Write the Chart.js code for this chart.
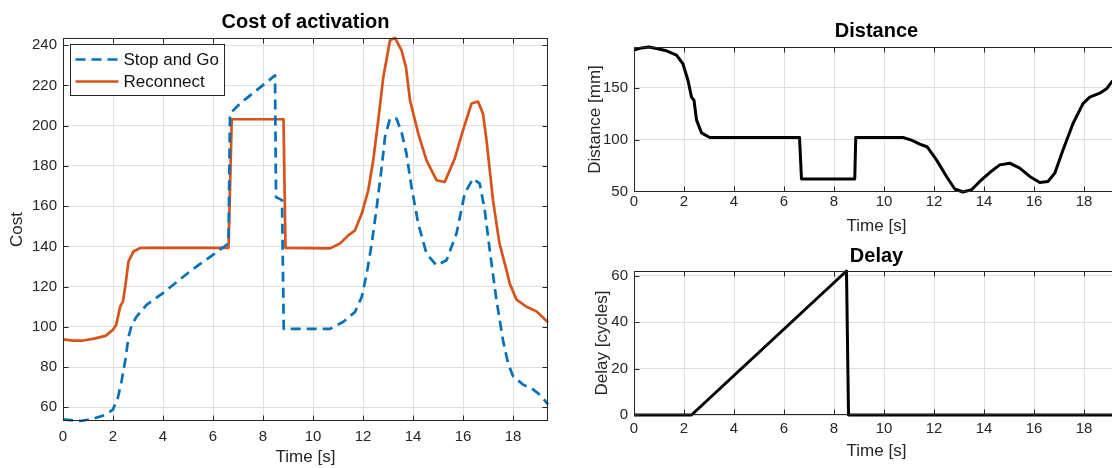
<!DOCTYPE html>
<html>
<head>
<meta charset="utf-8">
<title>Cost of activation</title>
<script src="https://cdn.jsdelivr.net/npm/chart.js@4/dist/chart.umd.min.js"></script>
<style>
    html, body {
        margin: 0;
        padding: 0;
        background: #ffffff;
        width: 1112px;
        height: 468px;
        overflow: hidden;
    }
    canvas {
        position: absolute;
    }
    #costChart { left: 0; top: 0; }
    #distanceChart { left: 570px; top: 0; }
    #delayChart { left: 570px; top: 240px; }
</style>
</head>
<body>
<canvas id="costChart" width="560" height="468"></canvas>
<canvas id="distanceChart" width="560" height="240"></canvas>
<canvas id="delayChart" width="560" height="228"></canvas>

<script>
// Time axis shared by all three plots
const timeRange = [0, 19.4];
const timeStep = 2;

// Cost of activation - Stop and Go
const stopTime = [0, 0.4, 0.7, 1.2, 1.75, 2.0, 2.2, 2.35, 2.5, 2.62, 2.75, 2.95, 3.35, 4.0, 5.0, 5.5, 6.0, 6.62,
    6.68, 7.08, 8.48, 8.52, 8.76, 8.83, 10.68, 11.2, 11.68, 11.95, 12.15, 12.35, 12.55, 12.75, 12.88,
    13.08, 13.34, 13.54, 13.74, 13.94, 14.21, 14.54, 14.94, 15.34, 15.74, 16.07, 16.4, 16.67, 16.87,
    17.07, 17.34, 17.6, 17.8, 18.0, 18.4, 18.8, 19.1, 19.4];
const stopCost = [54.0, 53.5, 53.2, 54.3, 56.5, 59, 65, 73.5, 84, 95, 101, 105.2, 111, 116.8, 126.8, 131.4, 135.8, 141.5,
    206, 211, 225, 164.5, 163, 99, 99, 102.4, 107.4, 114.9, 126.5, 141.4, 159.6, 179.5, 194.4,
    203.5, 203.5, 196.9, 186.1, 169.5, 151.3, 136.4, 130.6, 133.1, 146.4, 166.3, 173.7, 171.2, 158,
    138.1, 113.2, 93.3, 82, 75.5, 71.3, 68.9, 66, 61.5];

// Cost of activation - Reconnect
const reconnectTime = [0, 0.4, 0.8, 1.2, 1.7, 2.0, 2.13, 2.29, 2.4, 2.49, 2.62, 2.82, 3.09, 3.5, 6.62, 6.75, 8.82,
    8.9, 10.68, 11.08, 11.41, 11.68, 11.95, 12.21, 12.41, 12.61, 12.81, 13.08, 13.28, 13.54, 13.72,
    13.88, 14.21, 14.54, 14.94, 15.27, 15.67, 16.0, 16.34, 16.6, 16.8, 16.94, 17.2, 17.45, 17.74,
    17.87, 18.14, 18.54, 18.94, 19.4];
const reconnectCost = [93.8, 93.2, 93.2, 94, 95.5, 98.6, 101.1, 110.2, 112.7, 120.1, 132.5, 137.5, 139.2, 139.3, 139.3, 203.2, 203.2,
    139.3, 139, 141.4, 145.5, 148, 156.3, 167.9, 182.8, 202.7, 224, 242.5, 243.6, 237.5, 229,
    212.6, 196.1, 182.8, 172.9, 172, 183.7, 197.7, 211, 212, 206, 192.8, 163, 142, 128.1,
    121.5, 113.5, 110, 107.7, 102.3];

// Distance [mm]
const distTime = [0, 0.3, 0.6, 0.9, 1.3, 1.7, 1.96, 2.16, 2.3, 2.4, 2.5, 2.7, 3.03, 6.62, 6.7, 8.83, 8.87, 10.76,
    11.1, 11.43, 11.72, 12.1, 12.5, 12.83, 13.16, 13.5, 13.83, 14.23, 14.63, 15.03, 15.43, 15.83,
    16.23, 16.56, 16.83, 17.16, 17.56, 17.96, 18.23, 18.63, 18.9, 19.1, 19.4];
const distance = [186.4, 188.5, 189.4, 188, 185.7, 181.6, 173, 157, 141, 138, 119, 106.5, 102, 102, 62, 62, 102, 102,
    99.5, 95.7, 93.1, 80.4, 64.4, 52.3, 49.4, 51.6, 59.6, 68.2, 75.6, 77.2, 72.4, 64.4,
    58.6, 59.6, 67.6, 90, 115.5, 134.7, 141, 144.8, 149, 155.4, 162];

// Delay [cycles]
const delayTime = [0, 2.3, 8.5, 8.58, 19.4];
const delay = [0, 0, 62, 0, 0];

// Axis limits
const costRange = [53.2, 243.6];
const distRange = [49.4, 189.4];
const delayRange = [0, 62];

const FONT = "'Liberation Sans', Arial, Helvetica, sans-serif";
const AXIS_COLOR = '#262626';
const GRID_COLOR = '#dfdfdf';
const BLUE = '#0072bd';
const ORANGE = '#d95319';

Chart.defaults.font.family = FONT;
Chart.defaults.color = AXIS_COLOR;

function toPoints(xs, ys) {
    return xs.map((x, i) => ({ x: x, y: ys[i] }));
}

// Bold title centred over the plot area (not the whole canvas)
const axesTitle = {
    id: 'axesTitle',
    afterDraw(chart, args, opts) {
        const { ctx, chartArea: a } = chart;
        ctx.save();
        ctx.font = 'bold 20px ' + FONT;
        ctx.fillStyle = '#000000';
        ctx.textAlign = 'center';
        ctx.textBaseline = 'alphabetic';
        ctx.fillText(opts.text, (a.left + a.right) / 2, opts.baseline);
        ctx.restore();
    }
};

// Full box around the plot area plus inward tick marks on all four sides
const axesBox = {
    id: 'axesBox',
    afterDraw(chart) {
        const { ctx, chartArea: a, scales } = chart;
        const L = Math.round(a.left) + 0.5;
        const R = Math.round(a.right) - 0.5;
        const T = Math.round(a.top) + 0.5;
        const B = Math.round(a.bottom) - 0.5;
        const len = 5;
        ctx.save();
        ctx.strokeStyle = AXIS_COLOR;
        ctx.lineWidth = 1;
        ctx.strokeRect(L, T, R - L, B - T);
        ctx.beginPath();
        scales.x.ticks.forEach(t => {
            const px = Math.round(scales.x.getPixelForValue(t.value)) + 0.5;
            ctx.moveTo(px, B); ctx.lineTo(px, B - len);
            ctx.moveTo(px, T); ctx.lineTo(px, T + len);
        });
        scales.y.ticks.forEach(t => {
            const py = Math.round(scales.y.getPixelForValue(t.value)) + 0.5;
            ctx.moveTo(L, py); ctx.lineTo(L + len, py);
            ctx.moveTo(R, py); ctx.lineTo(R - len, py);
        });
        ctx.stroke();
        ctx.restore();
    }
};

// Boxed legend drawn in the upper left corner of the plot area
const boxLegend = {
    id: 'boxLegend',
    afterDraw(chart) {
        const { ctx, chartArea: a } = chart;
        const sets = chart.data.datasets;
        const font = '17px ' + FONT;
        const sample = 43;
        const rowH = 22;
        ctx.save();
        ctx.font = font;
        const textW = Math.max(...sets.map(d => ctx.measureText(d.label).width));
        const x0 = Math.round(a.left) + 7.5;
        const y0 = Math.round(a.top) + 6.5;
        const w = Math.round(5 + sample + 5 + textW + 6);
        const h = rowH * sets.length + 7;
        ctx.fillStyle = '#ffffff';
        ctx.fillRect(x0, y0, w, h);
        ctx.strokeStyle = AXIS_COLOR;
        ctx.lineWidth = 1;
        ctx.strokeRect(x0, y0, w, h);
        sets.forEach((d, i) => {
            const cy = y0 + 15 + i * rowH;
            ctx.beginPath();
            ctx.strokeStyle = d.borderColor;
            ctx.lineWidth = d.borderWidth;
            ctx.setLineDash(d.borderDash || []);
            ctx.moveTo(x0 + 5, cy);
            ctx.lineTo(x0 + 5 + sample, cy);
            ctx.stroke();
            ctx.setLineDash([]);
            ctx.fillStyle = '#111111';
            ctx.textBaseline = 'middle';
            ctx.textAlign = 'left';
            ctx.fillText(d.label, x0 + 10 + sample, cy + 1);
        });
        ctx.restore();
    }
};

function makeOptions(cfg) {
    return {
        responsive: false,
        animation: false,
        events: [],
        layout: { padding: { left: 0, right: cfg.padRight, top: cfg.padTop, bottom: 0 } },
        plugins: {
            legend: { display: false },
            tooltip: { enabled: false },
            title: { display: false },
            axesTitle: { text: cfg.title, baseline: cfg.titleBaseline }
        },
        scales: {
            x: {
                type: 'linear',
                min: timeRange[0],
                max: timeRange[1],
                afterFit(scale) { scale.height = cfg.xHeight; },
                ticks: {
                    stepSize: timeStep,
                    includeBounds: false,
                    padding: cfg.xTickPad,
                    maxRotation: 0,
                    font: { size: 15 },
                    color: AXIS_COLOR
                },
                grid: { color: GRID_COLOR, drawTicks: false },
                border: { display: false },
                title: {
                    display: true,
                    text: 'Time [s]',
                    font: { size: 17 },
                    color: AXIS_COLOR,
                    padding: { top: 0, bottom: cfg.xTitlePad }
                }
            },
            y: {
                type: 'linear',
                min: cfg.yRange[0],
                max: cfg.yRange[1],
                afterFit(scale) { scale.width = cfg.yWidth; },
                ticks: {
                    stepSize: cfg.yStep,
                    includeBounds: false,
                    padding: 6,
                    font: { size: 15 },
                    color: AXIS_COLOR
                },
                grid: { color: GRID_COLOR, drawTicks: false },
                border: { display: false },
                title: {
                    display: true,
                    text: cfg.yTitle,
                    font: { size: 17 },
                    color: AXIS_COLOR,
                    padding: { top: cfg.yTitlePad, bottom: 0 }
                }
            }
        }
    };
}

function lineSet(label, xs, ys, color, width, dash) {
    return {
        label: label,
        data: toPoints(xs, ys),
        borderColor: color,
        borderWidth: width,
        borderDash: dash,
        borderJoinStyle: 'round',
        borderCapStyle: 'butt',
        pointRadius: 0,
        tension: 0,
        fill: false,
        clip: 3
    };
}

new Chart(document.getElementById('costChart'), {
    type: 'line',
    data: {
        datasets: [
            lineSet('Stop and Go', stopTime, stopCost, BLUE, 2.7, [10, 6]),
            lineSet('Reconnect', reconnectTime, reconnectCost, ORANGE, 2.7, [])
        ]
    },
    options: makeOptions({
        title: 'Cost of activation',
        titleBaseline: 28,
        padTop: 38,
        padRight: 12,
        xHeight: 47,
        xTickPad: 7,
        xTitlePad: 0,
        yWidth: 63,
        yRange: costRange,
        yStep: 20,
        yTitle: 'Cost',
        yTitlePad: 7
    }),
    plugins: [axesBox, boxLegend, axesTitle]
});

new Chart(document.getElementById('distanceChart'), {
    type: 'line',
    data: {
        datasets: [lineSet('Distance', distTime, distance, '#000000', 3, [])]
    },
    options: makeOptions({
        title: 'Distance',
        titleBaseline: 37,
        padTop: 47,
        padRight: 11,
        xHeight: 48,
        xTickPad: 1,
        xTitlePad: 3,
        yWidth: 64,
        yRange: distRange,
        yStep: 50,
        yTitle: 'Distance [mm]',
        yTitlePad: 15
    }),
    plugins: [axesBox, axesTitle]
});

new Chart(document.getElementById('delayChart'), {
    type: 'line',
    data: {
        datasets: [lineSet('Delay', delayTime, delay, '#000000', 3, [])]
    },
    options: makeOptions({
        title: 'Delay',
        titleBaseline: 22,
        padTop: 31,
        padRight: 11,
        xHeight: 53,
        xTickPad: 5,
        xTitlePad: 6,
        yWidth: 64,
        yRange: delayRange,
        yStep: 20,
        yTitle: 'Delay [cycles]',
        yTitlePad: 22
    }),
    plugins: [axesBox, axesTitle]
});
</script>
</body>
</html>
